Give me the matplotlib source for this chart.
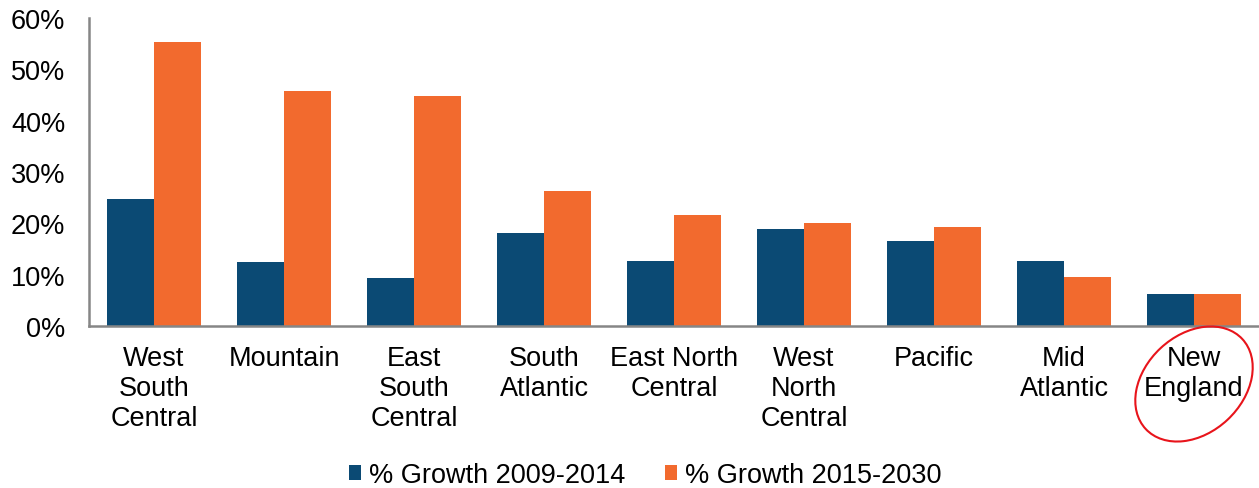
import matplotlib.pyplot as plt
import numpy as np
from matplotlib.patches import Ellipse
from matplotlib.transforms import IdentityTransform

plt.rcParams['font.family'] = ['Liberation Sans', 'DejaVu Sans']

regions = ["West\nSouth\nCentral", "Mountain", "East\nSouth\nCentral", "South\nAtlantic",
           "East North\nCentral", "West\nNorth\nCentral", "Pacific", "Mid\nAtlantic", "New\nEngland"]
growth_2009_2014 = [24.8, 12.4, 9.3, 18.1, 12.7, 18.9, 16.5, 12.6, 6.2]
growth_2015_2030 = [55.3, 45.7, 44.8, 26.4, 21.7, 20.0, 19.3, 9.5, 6.2]
series_labels = ["% Growth 2009-2014", "% Growth 2015-2030"]

blue = "#0B4A74"
orange = "#F26A2E"
fs = 19.5

fig = plt.figure(figsize=(12.59, 4.89), dpi=100)
ax = fig.add_axes([0.0707, 0.3313, 0.9293, 0.6297])

x = np.arange(len(regions))
w = 0.365
ax.bar(x - w / 2, growth_2009_2014, w, color=blue, label=series_labels[0])
ax.bar(x + w / 2, growth_2015_2030, w, color=orange, label=series_labels[1])

ax.set_xlim(-0.5, len(regions) - 0.5)
ax.set_ylim(0, 60)
ax.set_yticks(range(0, 61, 10))
ax.set_yticklabels([f"{v}%" for v in range(0, 61, 10)], fontsize=fs)
ax.set_xticks(x)
ax.set_xticklabels(regions, fontsize=fs, linespacing=1.2)
ax.tick_params(axis='both', length=0)
ax.tick_params(axis='y', pad=17)
ax.tick_params(axis='x', pad=14)

for s in ["top", "right"]:
    ax.spines[s].set_visible(False)
for s in ["left", "bottom"]:
    ax.spines[s].set_color("#868686")
    ax.spines[s].set_linewidth(1.8)

fig.legend(loc="center", bbox_to_anchor=(0.5127, 0.026), ncol=2, frameon=False,
           fontsize=fs, handlelength=0.45, handleheight=0.45, handletextpad=0.3,
           columnspacing=1.45)

# red circle highlighting New England (pixel coordinates)
ell = Ellipse((1194, 104), 132, 98, angle=43, transform=IdentityTransform(),
              fill=False, edgecolor="#E8141B", linewidth=1.5)
fig.add_artist(ell)

fig.savefig("out.png", dpi=100)
